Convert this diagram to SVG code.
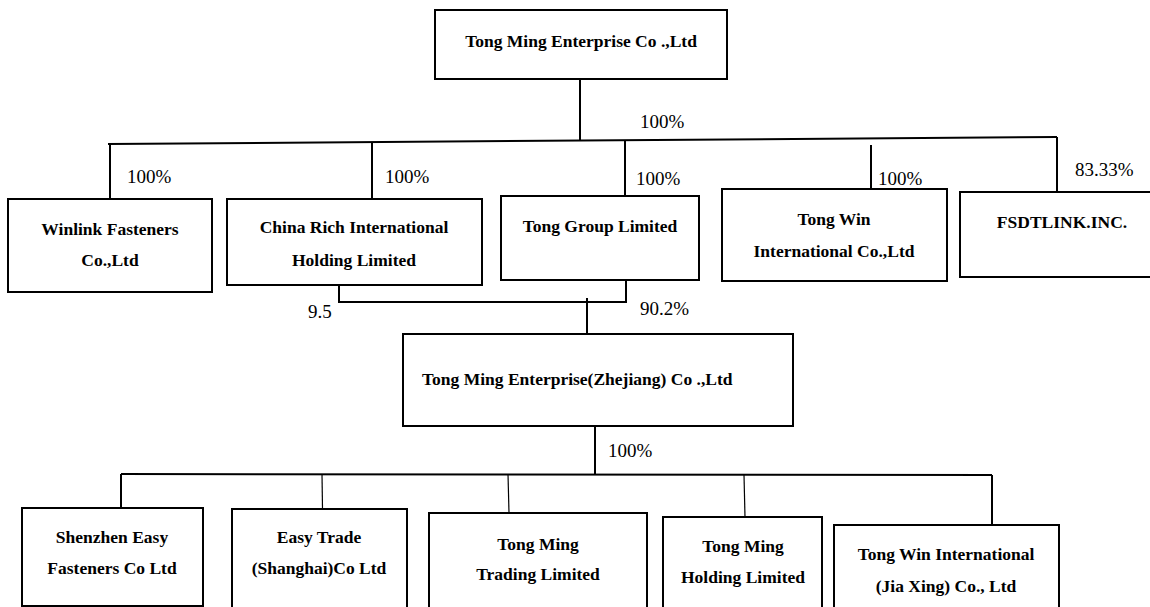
<svg xmlns="http://www.w3.org/2000/svg" width="1150" height="607" viewBox="0 0 1150 607">
<style>
.box{fill:#fff;stroke:#000;stroke-width:2}
.t{font-family:"Liberation Serif","Times New Roman",serif;font-weight:bold;font-size:17.5px;fill:#000;text-anchor:middle}
.p{font-family:"Liberation Serif","Times New Roman",serif;font-size:19px;fill:#000}
.c{fill:none;stroke:#000;stroke-width:2}
.c1{fill:none;stroke:#000;stroke-width:1.2}
</style>
<rect width="1150" height="607" fill="#fff"/>
<g id="connectors">
<line class="c" x1="580" y1="79" x2="580" y2="141"/>
<line class="c" x1="108" y1="144" x2="1057" y2="137"/>
<line class="c" x1="110" y1="144" x2="110" y2="199"/>
<line class="c" x1="372" y1="142" x2="372" y2="199"/>
<line class="c" x1="625" y1="140" x2="625" y2="196"/>
<line class="c" x1="871" y1="145" x2="871" y2="189"/>
<line class="c" x1="1057" y1="137" x2="1057" y2="192"/>
<polyline class="c" points="339,283 339,302 626,302 626,280"/>
<line class="c" x1="587" y1="298" x2="587" y2="348"/>
<line class="c" x1="595" y1="426" x2="595" y2="475"/>
<line class="c" x1="121" y1="474" x2="992" y2="475"/>
<line class="c" x1="121" y1="474" x2="121" y2="508"/>
<line class="c1" x1="322" y1="474" x2="322.5" y2="509"/>
<line class="c1" x1="508" y1="474" x2="509" y2="513"/>
<line class="c1" x1="744" y1="475" x2="745" y2="517"/>
<line class="c" x1="992" y1="475" x2="992" y2="525"/>
<text class="p" x="640" y="128">100%</text>
<text class="p" x="127" y="183">100%</text>
<text class="p" x="385" y="183">100%</text>
<text class="p" x="636" y="185">100%</text>
<text class="p" x="878" y="185">100%</text>
<text class="p" x="1075" y="176">83.33%</text>
<text class="p" x="308" y="318">9.5</text>
<text class="p" x="640" y="315">90.2%</text>
<text class="p" x="608" y="457">100%</text>
</g>
<g id="tongming">
<rect class="box" x="435" y="10" width="292" height="69"/>
<text class="t" x="581" y="47">Tong Ming Enterprise Co .,Ltd</text>
</g>
<g id="winlink">
<rect class="box" x="8" y="199" width="204" height="93"/>
<text class="t" x="110" y="235">Winlink Fasteners</text>
<text class="t" x="110" y="266">Co.,Ltd</text>
</g>
<g id="chinarich">
<rect class="box" x="227" y="199" width="255" height="86"/>
<text class="t" x="354" y="233">China Rich International</text>
<text class="t" x="354" y="266">Holding Limited</text>
</g>
<g id="tonggroup">
<rect class="box" x="501" y="196" width="198" height="84"/>
<text class="t" x="600" y="232">Tong Group Limited</text>
</g>
<g id="tongwin">
<rect class="box" x="722" y="189" width="225" height="92"/>
<text class="t" x="834" y="225">Tong Win</text>
<text class="t" x="834" y="257">International Co.,Ltd</text>
</g>
<g id="fsdtlink">
<rect class="box" x="960" y="192" width="194" height="85"/>
<text class="t" x="1062" y="228">FSDTLINK.INC.</text>
</g>
<g id="zhejiang">
<rect class="box" x="403" y="334" width="390" height="92"/>
<text class="t" x="422" y="385" style="text-anchor:start">Tong Ming Enterprise(Zhejiang) Co .,Ltd</text>
</g>
<g id="shenzhen">
<rect class="box" x="22" y="508" width="181" height="98"/>
<text class="t" x="112" y="543">Shenzhen Easy</text>
<text class="t" x="112" y="574">Fasteners Co Ltd</text>
</g>
<g id="easytrade">
<rect class="box" x="232" y="509" width="175" height="102"/>
<text class="t" x="319" y="543">Easy Trade</text>
<text class="t" x="319" y="574">(Shanghai)Co Ltd</text>
</g>
<g id="trading">
<rect class="box" x="429" y="513" width="218" height="98"/>
<text class="t" x="538" y="550">Tong Ming</text>
<text class="t" x="538" y="580">Trading Limited</text>
</g>
<g id="holding">
<rect class="box" x="663" y="517" width="159" height="94"/>
<text class="t" x="743" y="552">Tong Ming</text>
<text class="t" x="743" y="583">Holding Limited</text>
</g>
<g id="jiaxing">
<rect class="box" x="834" y="525" width="225" height="86"/>
<text class="t" x="946" y="560">Tong Win International</text>
<text class="t" x="946" y="592">(Jia Xing) Co., Ltd</text>
</g>
</svg>
